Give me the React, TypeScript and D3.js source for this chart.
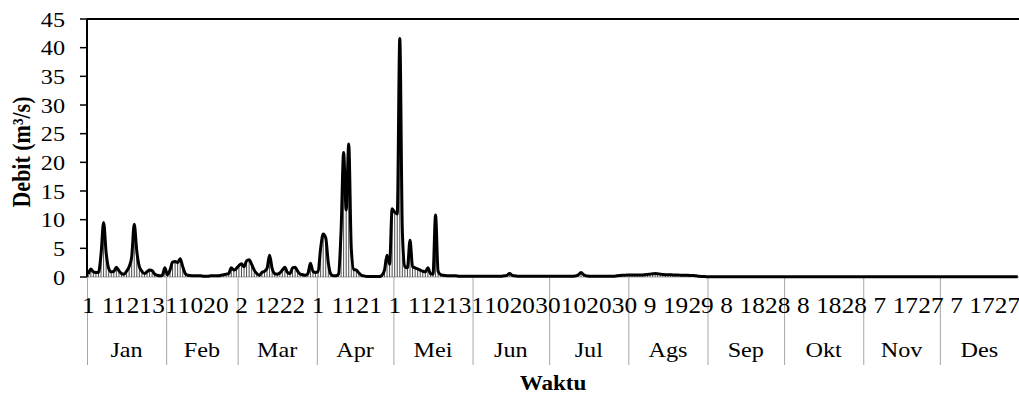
import * as d3 from "d3";
import { useEffect, useRef } from "react";

// daily discharge (m3/s), one array per month
const jan = [0.5, 1.4, 0.9, 0.8, 0.8, 4.0, 9.5, 4.2, 1.5, 0.9, 1.0, 1.7, 1.1, 0.6, 0.5, 1.0, 1.8, 3.5, 9.2, 4.5, 1.8, 1.0, 0.6, 0.9, 1.2, 1.1, 0.5, 0.3, 0.2, 0.3, 1.6];
const feb = [0.4, 1.2, 2.6, 2.7, 2.5, 3.2, 1.8, 0.6, 0.3, 0.25, 0.2, 0.2, 0.2, 0.2, 0.15, 0.15, 0.15, 0.2, 0.2, 0.2, 0.2, 0.3, 0.4, 0.5, 0.6, 1.6, 1.2, 1.5];
const mar = [2.0, 2.3, 1.8, 2.8, 3.0, 2.2, 1.2, 0.6, 0.3, 0.8, 1.0, 1.5, 3.8, 1.5, 0.6, 0.5, 0.7, 1.2, 1.7, 0.8, 0.6, 1.6, 1.7, 1.0, 0.5, 0.4, 0.3, 0.6, 2.4, 1.0, 0.8];
const apr = [1.0, 5.0, 7.5, 6.8, 2.5, 0.5, 0.2, 0.2, 0.5, 8.0, 21.7, 11.7, 23.2, 5.0, 1.3, 1.2, 0.7, 0.3, 0.2, 0.1, 0.1, 0.1, 0.1, 0.1, 0.1, 0.3, 1.2, 3.8, 2.2, 11.9];
const mei = [11.3, 11.0, 41.6, 8.0, 1.8, 1.6, 6.4, 1.8, 1.6, 1.4, 1.2, 1.0, 0.9, 1.6, 0.6, 0.5, 10.8, 1.0, 0.4, 0.3, 0.25, 0.2, 0.2, 0.2, 0.2, 0.15, 0.15, 0.15, 0.15, 0.15, 0.15];
const jun = [0.15, 0.15, 0.15, 0.15, 0.15, 0.15, 0.15, 0.15, 0.15, 0.15, 0.15, 0.15, 0.2, 0.3, 0.6, 0.3, 0.2, 0.15, 0.15, 0.15, 0.15, 0.15, 0.12, 0.12, 0.12, 0.12, 0.12, 0.12, 0.12, 0.12];
const jul = [0.12, 0.12, 0.12, 0.12, 0.12, 0.12, 0.12, 0.12, 0.12, 0.15, 0.2, 0.4, 0.8, 0.4, 0.2, 0.15, 0.12, 0.12, 0.12, 0.12, 0.12, 0.12, 0.12, 0.12, 0.12, 0.15, 0.2, 0.25, 0.3, 0.3, 0.35];
const ags = [0.35, 0.35, 0.35, 0.35, 0.35, 0.35, 0.4, 0.45, 0.5, 0.55, 0.6, 0.55, 0.5, 0.45, 0.4, 0.4, 0.4, 0.35, 0.35, 0.35, 0.3, 0.3, 0.3, 0.3, 0.25, 0.25, 0.2, 0.15, 0.1, 0.08, 0.06];
const sep = [0.05, 0.05, 0.05, 0.05, 0.05, 0.05, 0.05, 0.05, 0.05, 0.05, 0.05, 0.05, 0.05, 0.05, 0.05, 0.05, 0.05, 0.05, 0.05, 0.05, 0.05, 0.05, 0.05, 0.05, 0.05, 0.05, 0.05, 0.05, 0.05, 0.05];
const okt = [0.05, 0.05, 0.05, 0.05, 0.05, 0.05, 0.05, 0.05, 0.05, 0.05, 0.05, 0.05, 0.05, 0.05, 0.05, 0.05, 0.05, 0.05, 0.05, 0.05, 0.05, 0.05, 0.05, 0.05, 0.05, 0.05, 0.05, 0.05, 0.05, 0.05, 0.05];
const nov = [0.05, 0.05, 0.05, 0.05, 0.05, 0.05, 0.05, 0.05, 0.05, 0.05, 0.05, 0.05, 0.05, 0.05, 0.05, 0.05, 0.05, 0.05, 0.05, 0.05, 0.05, 0.05, 0.05, 0.05, 0.05, 0.05, 0.05, 0.05, 0.05, 0.05];
const des = [0.05, 0.05, 0.05, 0.05, 0.05, 0.05, 0.05, 0.05, 0.05, 0.05, 0.05, 0.05, 0.05, 0.05, 0.05, 0.05, 0.05, 0.05, 0.05, 0.05, 0.05, 0.05, 0.05, 0.05, 0.05, 0.05, 0.05, 0.05, 0.05, 0.05, 0.05];

const months = ["Jan", "Feb", "Mar", "Apr", "Mei", "Jun", "Jul", "Ags", "Sep", "Okt", "Nov", "Des"];
const monthData = [jan, feb, mar, apr, mei, jun, jul, ags, sep, okt, nov, des];
const yTicks = [0, 5, 10, 15, 20, 25, 30, 35, 40, 45];

const W = 1019;
const H = 394;
const FONT = "Liberation Serif, Times New Roman, Times, serif";
const SX = 1.1; // the source picture is a little wider than tall

const App = () => {
  const ref = useRef<SVGSVGElement>(null);

  useEffect(() => {
    const svg = d3.select(ref.current);
    svg.selectAll("*").remove();

    // flatten months into daily rows
    const rows: { i: number; day: number; month: number; v: number }[] = [];
    monthData.forEach((arr, m) =>
      arr.forEach((v, d) => rows.push({ i: rows.length, day: d + 1, month: m, v }))
    );

    const left = 87, right = 1019, top = 19, bottom = 277;

    const x = d3
      .scaleBand<number>()
      .domain(rows.map((d) => d.i))
      .range([left, right])
      .padding(0);
    const cx = (i: number) => (x(i) as number) + x.bandwidth() / 2;

    const y = d3.scaleLinear().domain([0, 45]).range([bottom, top]);

    // month separators (grey)
    const starts: number[] = [];
    let acc = 0;
    monthData.forEach((arr) => {
      starts.push(acc);
      acc += arr.length;
    });
    const bounds = [...starts, acc];
    const bx = (b: number) => (b < acc ? (x(b) as number) : right);
    svg
      .append("g")
      .selectAll("line")
      .data(bounds)
      .join("line")
      .attr("x1", (b) => bx(b) + 0.5)
      .attr("x2", (b) => bx(b) + 0.5)
      .attr("y1", bottom)
      .attr("y2", 365)
      .attr("stroke", "#a6a6a6")
      .attr("stroke-width", 1);

    svg
      .append("line")
      .attr("x1", left)
      .attr("x2", right)
      .attr("y1", bottom)
      .attr("y2", bottom)
      .attr("stroke", "#a6a6a6");

    // drop lines
    svg
      .append("g")
      .selectAll("line")
      .data(rows)
      .join("line")
      .attr("x1", (d) => cx(d.i))
      .attr("x2", (d) => cx(d.i))
      .attr("y1", (d) => y(d.v))
      .attr("y2", bottom)
      .attr("stroke", "#4d4d4d")
      .attr("stroke-width", 1);

    // series line
    const line = d3
      .line<{ i: number; v: number }>()
      .x((d) => cx(d.i))
      .y((d) => y(d.v))
      .curve(d3.curveMonotoneX);
    svg
      .append("path")
      .datum(rows)
      .attr("d", line)
      .attr("fill", "none")
      .attr("stroke", "#000")
      .attr("stroke-width", 3)
      .attr("stroke-linejoin", "round");

    // y axis + top frame line
    svg
      .append("line")
      .attr("x1", left)
      .attr("x2", left)
      .attr("y1", top)
      .attr("y2", bottom)
      .attr("stroke", "#000")
      .attr("stroke-width", 2);
    svg
      .append("line")
      .attr("x1", left)
      .attr("x2", right)
      .attr("y1", top)
      .attr("y2", top)
      .attr("stroke", "#000")
      .attr("stroke-width", 2);
    const yg = svg.append("g");
    yg.selectAll("line")
      .data(yTicks)
      .join("line")
      .attr("x1", 80)
      .attr("x2", left)
      .attr("y1", (d) => y(d))
      .attr("y2", (d) => y(d))
      .attr("stroke", "#000")
      .attr("stroke-width", 1.5);
    yg.selectAll("text")
      .data(yTicks)
      .join("text")
      .attr("transform", (d) => `translate(65,${y(d)}) scale(${SX},1)`)
      .attr("dy", "0.35em")
      .attr("text-anchor", "end")
      .attr("font-family", FONT)
      .attr("font-size", 22)
      .text((d) => d);

    // day labels every 10 days
    svg
      .append("g")
      .selectAll("text")
      .data(rows.filter((d) => d.i % 10 === 0))
      .join("text")
      .attr("transform", (d) => `translate(${cx(d.i)},313) scale(${SX},1)`)
      .attr("text-anchor", "middle")
      .attr("font-family", FONT)
      .attr("font-size", 23)
      .text((d) => d.day);

    // month labels
    svg
      .append("g")
      .selectAll("text")
      .data(months)
      .join("text")
      .attr("transform", (_, m) => `translate(${(bx(bounds[m]) + bx(bounds[m + 1])) / 2},357) scale(${SX},1)`)
      .attr("text-anchor", "middle")
      .attr("font-family", FONT)
      .attr("font-size", 22)
      .text((d) => d);

    // axis titles
    svg
      .append("text")
      .attr("transform", `translate(30, 152) rotate(-90) scale(1,${SX})`)
      .attr("text-anchor", "middle")
      .attr("font-family", FONT)
      .attr("font-size", 22)
      .attr("font-weight", "bold")
      .text("Debit (m³/s)");
    svg
      .append("text")
      .attr("transform", `translate(${(left + right) / 2},390) scale(${SX},1)`)
      .attr("text-anchor", "middle")
      .attr("font-family", FONT)
      .attr("font-size", 21)
      .attr("font-weight", "bold")
      .text("Waktu");
  }, []);

  return (
    <svg
      ref={ref}
      width={W}
      height={H}
      style={{ position: "absolute", left: 0, top: 0, background: "#fff" }}
    />
  );
};

export default App;
